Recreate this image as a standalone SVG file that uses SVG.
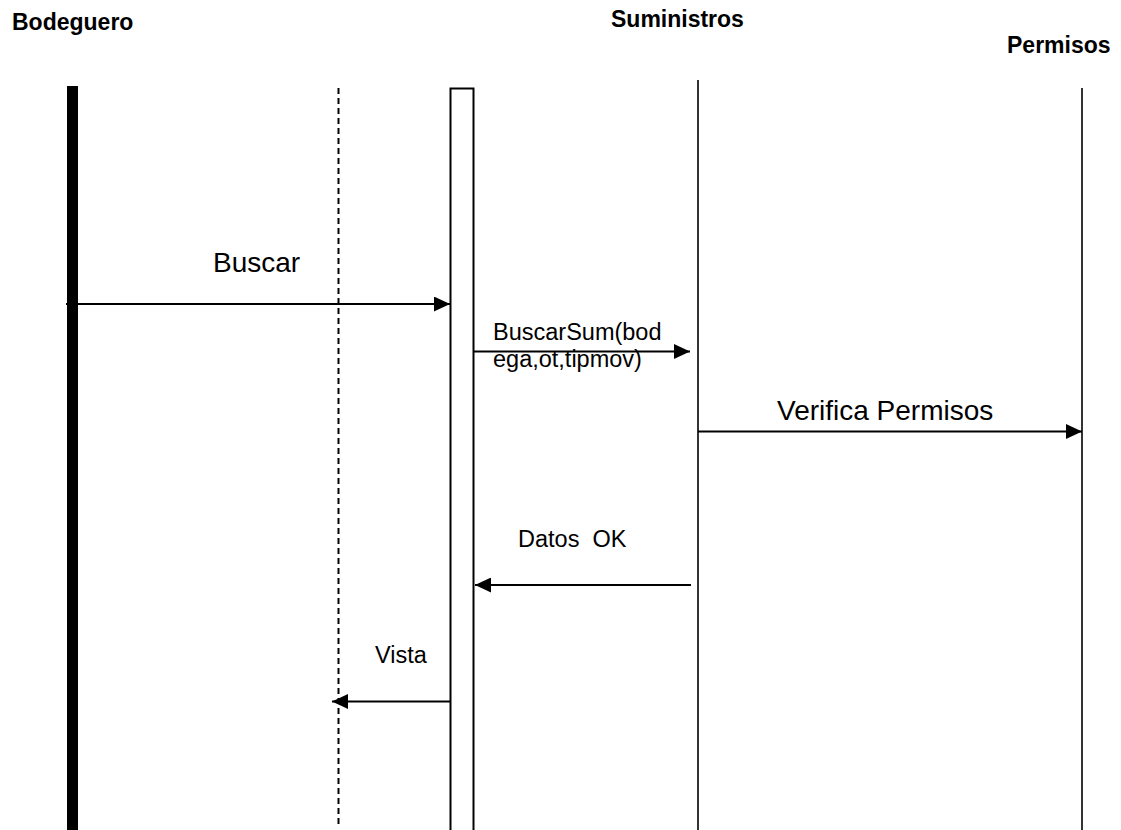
<svg xmlns="http://www.w3.org/2000/svg" width="1121" height="830" viewBox="0 0 1121 830">
  <style>
    .title { font-family: "Liberation Sans", Arial, sans-serif; font-weight: bold; font-size: 23px; fill: #000; }
    .big { font-family: "Liberation Sans", Arial, sans-serif; font-size: 28px; fill: #000; }
    .small { font-family: "Liberation Sans", Arial, sans-serif; font-size: 23.5px; fill: #000; white-space: pre; }
    .life { stroke: #000; stroke-width: 1.6; fill: none; }
    .msg { stroke: #000; stroke-width: 2; fill: none; marker-end: url(#arrow); }
  </style>
  <defs>
    <marker id="arrow" markerUnits="userSpaceOnUse" markerWidth="16" markerHeight="15" refX="16" refY="7.5" orient="auto" viewBox="0 0 16 15">
      <path d="M0,0 L16,7.5 L0,15 z" fill="#000"/>
    </marker>
  </defs>
  <rect x="0" y="0" width="1121" height="830" fill="#fff"/>

  <g id="bodeguero">
    <text class="title" x="12" y="30">Bodeguero</text>
    <rect x="67" y="86" width="11" height="750" fill="#000"/>
  </g>

  <g id="interfaz">
    <line x1="338.5" y1="88" x2="338.5" y2="824" stroke="#000" stroke-width="2" stroke-dasharray="6,4"/>
  </g>

  <g id="control">
    <rect x="450.5" y="88.5" width="23" height="760" fill="#fff" stroke="#000" stroke-width="2"/>
  </g>

  <g id="suministros">
    <text class="title" x="611" y="27">Suministros</text>
    <line class="life" x1="698" y1="80" x2="698" y2="830"/>
  </g>

  <g id="permisos">
    <text class="title" x="1007" y="53">Permisos</text>
    <line class="life" x1="1082" y1="88" x2="1082" y2="830"/>
  </g>

  <g id="connectors">
    <line class="msg" x1="66" y1="304" x2="450" y2="304"/>
    <text class="big" x="213" y="272">Buscar</text>

    <line class="msg" x1="474" y1="351.5" x2="690" y2="351.5"/>
    <text class="small" x="493" y="340">BuscarSum(bod</text>
    <text class="small" x="493" y="367">ega,ot,tipmov)</text>

    <line class="msg" x1="698" y1="431.5" x2="1082" y2="431.5"/>
    <text class="big" x="777" y="420">Verifica Permisos</text>

    <line class="msg" x1="691" y1="585" x2="475" y2="585"/>
    <text class="small" x="518" y="547">Datos  OK</text>

    <line class="msg" x1="450" y1="701.5" x2="332" y2="701.5"/>
    <text class="small" x="375" y="663">Vista</text>
  </g>
</svg>
